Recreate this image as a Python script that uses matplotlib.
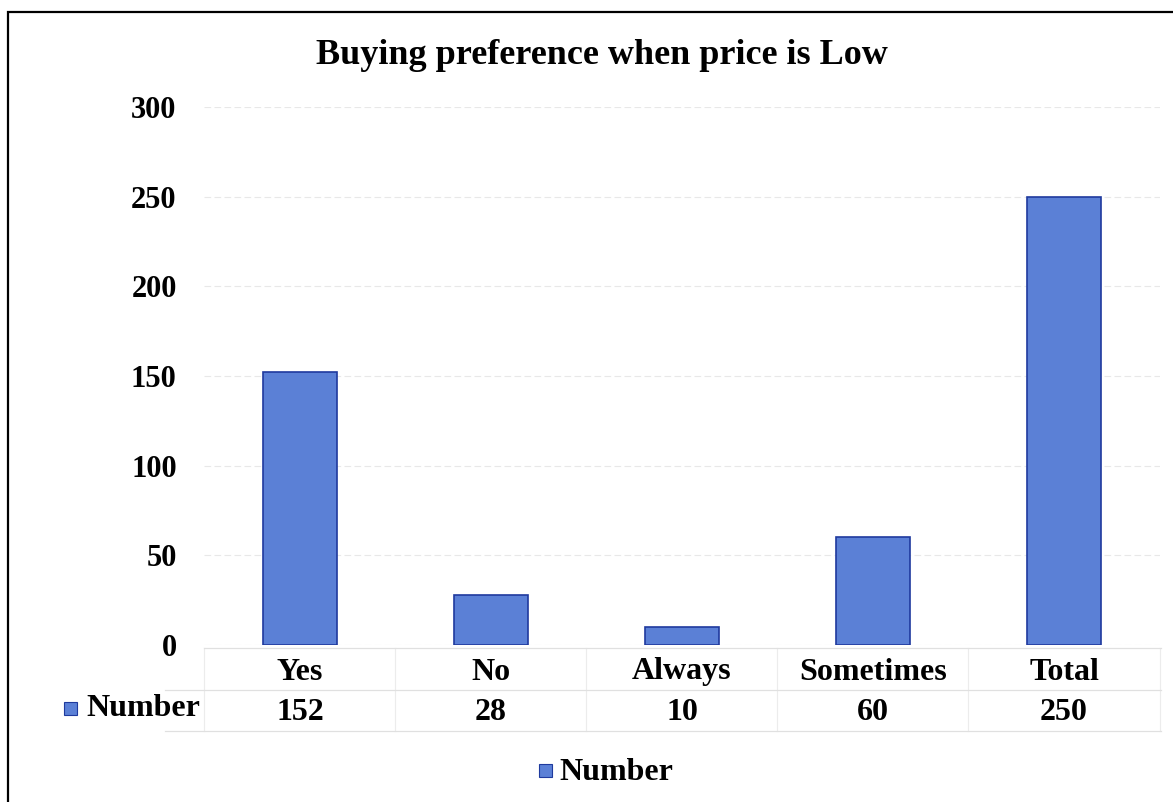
import matplotlib.pyplot as plt
from matplotlib.patches import Rectangle
from matplotlib.transforms import blended_transform_factory

categories = ['Yes', 'No', 'Always', 'Sometimes', 'Total']
number = [152, 28, 10, 60, 250]
yticks = [0, 50, 100, 150, 200, 250, 300]

plt.rcParams['font.family'] = ['Liberation Serif', 'DejaVu Serif']
plt.rcParams['font.weight'] = 'bold'

bar_face = '#5B80D6'
bar_edge = '#1F3A9E'

fig = plt.figure(figsize=(11.73, 8.02), dpi=100)
ax = fig.add_axes([0.1743, 0.1958, 0.8142, 0.6708])

x = range(len(categories))
ax.bar(x, number, width=0.39, color=bar_face, edgecolor=bar_edge, linewidth=1.2, zorder=3)

ax.set_xlim(-0.5, len(categories) - 0.5)
ax.set_ylim(0, 300)
ax.set_yticks(yticks)
ax.set_yticklabels([str(v) for v in yticks], fontsize=22, fontweight='bold')
ax.tick_params(axis='y', length=0, pad=20)
ax.set_xticks([])
for s in ax.spines.values():
    s.set_visible(False)
ax.grid(axis='y', color='#e8e8e8', linewidth=0.8, linestyle=(0, (6, 3)), zorder=0)

fig.text(0.513, 1 - 56 / 802, 'Buying preference when price is Low', ha='center', va='center',
         fontsize=26, fontweight='bold')

# data table under the axis
tr = blended_transform_factory(ax.transData, fig.transFigure)
row1_y = 1 - 672 / 802
row2_y = 1 - 713 / 802
for i, (c, v) in enumerate(zip(categories, number)):
    ax.text(i, row1_y, c, transform=tr, ha='center', va='center', fontsize=23, fontweight='bold')
    ax.text(i, row2_y, str(v), transform=tr, ha='center', va='center', fontsize=23, fontweight='bold')

line_col = '#e0e0e0'
for yy in [1 - 648 / 802, 1 - 690 / 802, 1 - 731 / 802]:
    x0 = 165 / 1173 if yy < 1 - 680 / 802 else 0.1743
    fig.add_artist(plt.Line2D([x0, 0.99], [yy, yy], color=line_col, lw=0.9))
for xb in [-0.5, 0.5, 1.5, 2.5, 3.5, 4.5]:
    ax.plot([xb, xb], [1 - 648 / 802, 1 - 731 / 802], transform=tr, color='#ececec', lw=0.8,
            clip_on=False)

fig.add_artist(Rectangle((64 / 1173, 1 - 715 / 802), 13 / 1173, 13 / 802, transform=fig.transFigure,
                         facecolor=bar_face, edgecolor=bar_edge, lw=0.8))
fig.text(86 / 1173, 1 - 709 / 802, 'Number', ha='left', va='center', fontsize=23, fontweight='bold')

# legend
fig.add_artist(Rectangle((539 / 1173, 1 - 777 / 802), 13 / 1173, 13 / 802, transform=fig.transFigure,
                         facecolor=bar_face, edgecolor=bar_edge, lw=0.8))
fig.text(559 / 1173, 1 - 772 / 802, 'Number', ha='left', va='center', fontsize=23, fontweight='bold')

# outer frame
fig.add_artist(Rectangle((8 / 1173, -0.05), 1.1, 1 - 12 / 802 + 0.05, transform=fig.transFigure,
                         facecolor='none', edgecolor='black', lw=1.6))

fig.savefig('out.png', dpi=100)
